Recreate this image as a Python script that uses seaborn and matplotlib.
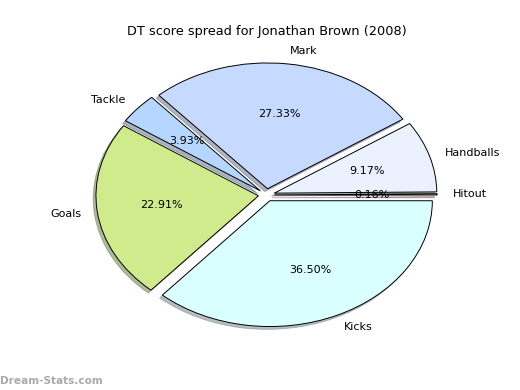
import matplotlib
matplotlib.use("Agg")
import matplotlib.pyplot as plt
import seaborn as sns

sns.set_theme(style="white")
plt.rcParams['font.family'] = ['DejaVu Sans']

labels = ["Hitout", "Handballs", "Mark", "Tackle", "Goals", "Kicks"]
values = [0.16, 9.17, 27.33, 3.93, 22.91, 36.50]
colors = sns.color_palette(["#FFD8D8", "#EBF1FF", "#C6D9FF", "#B5D7FF", "#D0EB8B", "#DAFFFF"])

fig = plt.figure(figsize=(5.2, 3.9), dpi=100)
ax = fig.add_axes([0.125, 0.1, 0.775, 0.8])
wedges, texts, autotexts = ax.pie(values, labels=labels, colors=colors, explode=[0.05] * len(values),
                                  autopct="%1.2f%%",
                                  shadow=dict(ox=-0.012, oy=-0.016, shade=0.45, alpha=0.55),
                                  startangle=0,
                                  wedgeprops=dict(edgecolor="black", linewidth=0.7),
                                  textprops=dict(fontsize=8, color="black"))
ax.set_aspect("auto")
ax.set_xlim(-1.24, 1.24)
ax.set_ylim(-1.24, 1.24)
ax.set_title("DT score spread for Jonathan Brown (2008)", fontsize=9.3, pad=3, color="black")
fig.text(0.0, 0.016, "Dream-Stats.com", fontsize=7.6, color="#aaaaaa", fontweight="bold")
fig.savefig("out.png", dpi=100, facecolor="white")
